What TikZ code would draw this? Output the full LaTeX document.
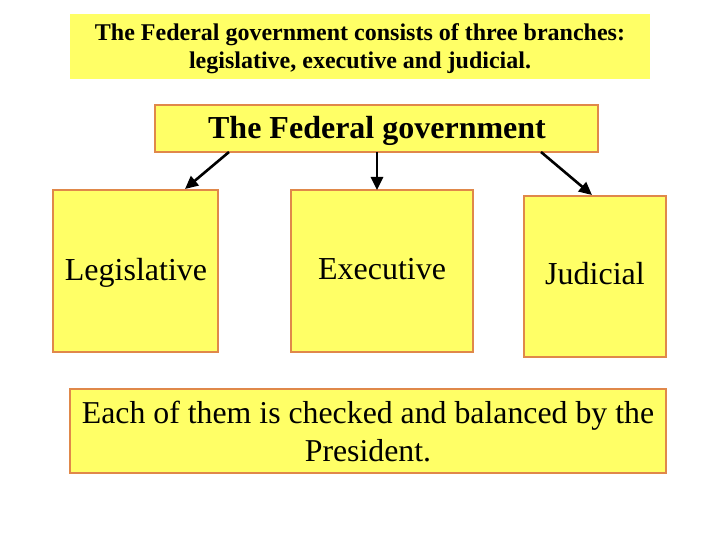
\documentclass[tikz,border=0pt]{standalone}
\usepackage{fontspec}
\setmainfont{Liberation Serif}
\usetikzlibrary{arrows.meta}
\definecolor{boxfill}{HTML}{FFFF66}
\definecolor{boxline}{HTML}{E0884A}
\begin{document}
\begin{tikzpicture}[x=1pt,y=-1pt,
  ybox/.style={fill=boxfill,draw=boxline,line width=1.2pt},
  arr/.style={line width=2.6pt,-{Triangle[length=13pt,width=12pt]}}]
\useasboundingbox (0,0) rectangle (720,540);
\fill[boxfill] (70,14) rectangle (650,79);
\node[align=center,anchor=base,inner sep=0pt,font=\bfseries\fontsize{24}{28}\selectfont] (top) at (360,69)
  {The Federal government consists of three branches:\\legislative, executive and judicial.};
\draw[ybox] (155,105) rectangle (598,152);
\node[anchor=base,font=\bfseries\fontsize{32}{36}\selectfont] (fed) at (377,139) {The Federal government};
\draw[ybox] (53,190) rectangle (218,352);
\node[anchor=base,font=\fontsize{32}{36}\selectfont] (leg) at (136,280) {Legislative};
\draw[ybox] (291,190) rectangle (473,352);
\node[anchor=base,font=\fontsize{32}{36}\selectfont] (exe) at (382,279) {Executive};
\draw[ybox] (524,196) rectangle (666,357);
\node[anchor=base,font=\fontsize{32}{36}\selectfont] (jud) at (595,284) {Judicial};
\draw[ybox] (70,389) rectangle (666,473);
\node[align=center,anchor=base,inner sep=0pt,font=\fontsize{31.8}{38}\selectfont] (chk) at (368,461)
  {Each of them is checked and balanced by the\\President.};
\coordinate (a1s) at (229,152); \coordinate (a1e) at (185,189);
\coordinate (a2s) at (377,152); \coordinate (a2e) at (377,190);
\coordinate (a3s) at (541,152); \coordinate (a3e) at (592,195);
\draw[arr] (a1s) -- (a1e);
\draw[arr] (a2s) -- (a2e);
\draw[arr] (a3s) -- (a3e);
\end{tikzpicture}
\end{document}
